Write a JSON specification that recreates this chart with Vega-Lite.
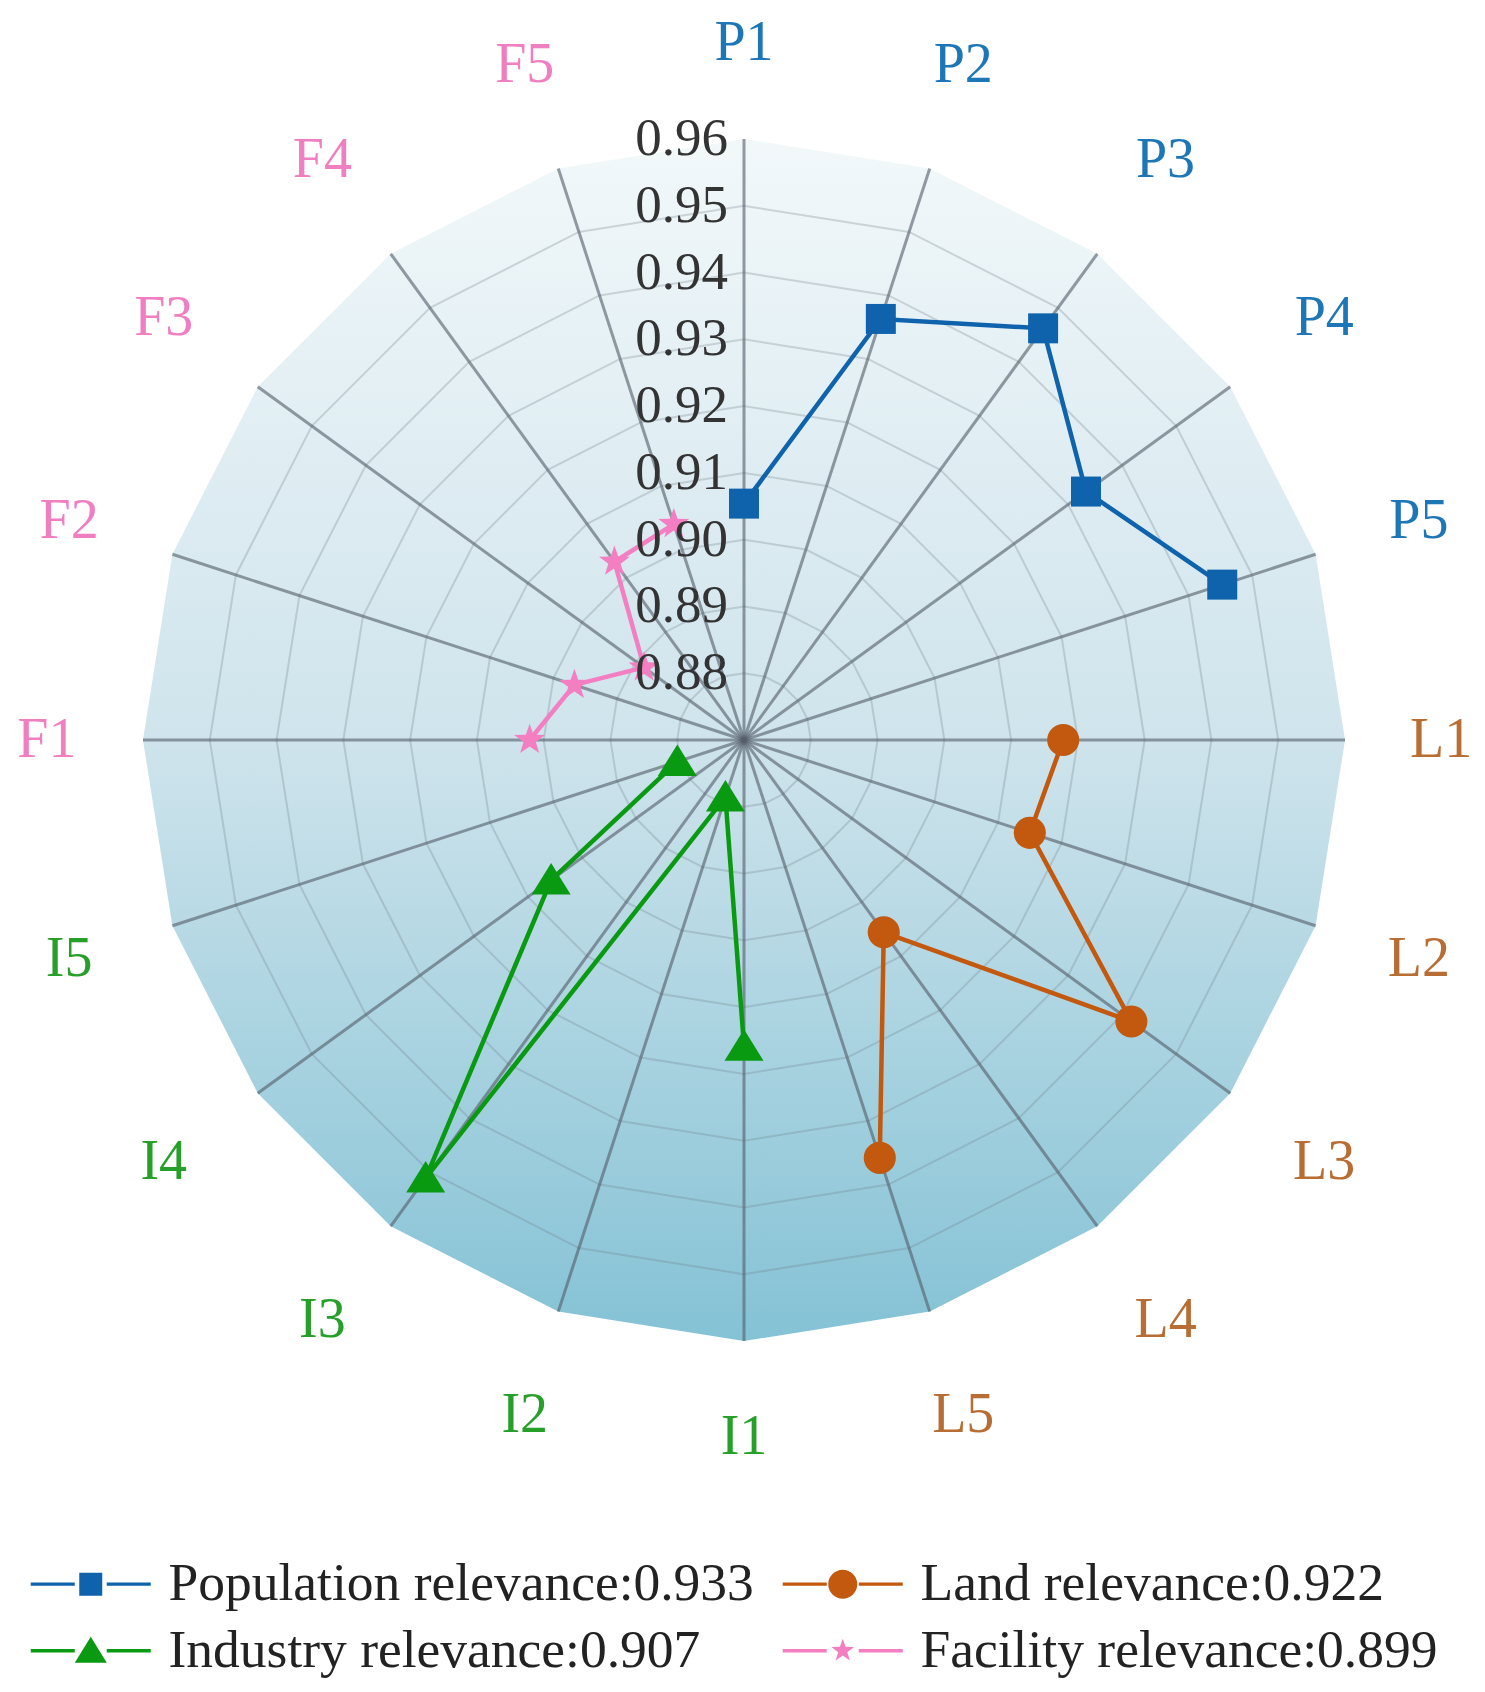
{
  "$schema": "https://vega.github.io/schema/vega-lite/v6.json",
  "width": 1485,
  "height": 1692,
  "padding": 0,
  "autosize": {"type": "none"},
  "background": "white",
  "config": {
    "view": {"stroke": null},
    "font": "Liberation Serif",
    "legend": {
      "orient": "none", "legendX": 30, "legendY": 1557, "columns": 2,
      "columnPadding": 28, "rowPadding": 12, "padding": 0,
      "labelFont": "Liberation Serif", "labelFontSize": 53.5, "labelColor": "#222222", "labelLimit": 0,
      "symbolSize": 400, "symbolOffset": 34, "labelOffset": 51
    }
  },
  "datasets": {
    "axes": [
      {"label": "P1", "grp": "P", "idx": 0, "rings": [0.88, 0.89, 0.9, 0.91, 0.92, 0.93, 0.94, 0.95]},
      {"label": "P2", "grp": "P", "idx": 1, "rings": [0.88, 0.89, 0.9, 0.91, 0.92, 0.93, 0.94, 0.95]},
      {"label": "P3", "grp": "P", "idx": 2, "rings": [0.88, 0.89, 0.9, 0.91, 0.92, 0.93, 0.94, 0.95]},
      {"label": "P4", "grp": "P", "idx": 3, "rings": [0.88, 0.89, 0.9, 0.91, 0.92, 0.93, 0.94, 0.95]},
      {"label": "P5", "grp": "P", "idx": 4, "rings": [0.88, 0.89, 0.9, 0.91, 0.92, 0.93, 0.94, 0.95]},
      {"label": "L1", "grp": "L", "idx": 5, "rings": [0.88, 0.89, 0.9, 0.91, 0.92, 0.93, 0.94, 0.95]},
      {"label": "L2", "grp": "L", "idx": 6, "rings": [0.88, 0.89, 0.9, 0.91, 0.92, 0.93, 0.94, 0.95]},
      {"label": "L3", "grp": "L", "idx": 7, "rings": [0.88, 0.89, 0.9, 0.91, 0.92, 0.93, 0.94, 0.95]},
      {"label": "L4", "grp": "L", "idx": 8, "rings": [0.88, 0.89, 0.9, 0.91, 0.92, 0.93, 0.94, 0.95]},
      {"label": "L5", "grp": "L", "idx": 9, "rings": [0.88, 0.89, 0.9, 0.91, 0.92, 0.93, 0.94, 0.95]},
      {"label": "I1", "grp": "I", "idx": 10, "rings": [0.88, 0.89, 0.9, 0.91, 0.92, 0.93, 0.94, 0.95]},
      {"label": "I2", "grp": "I", "idx": 11, "rings": [0.88, 0.89, 0.9, 0.91, 0.92, 0.93, 0.94, 0.95]},
      {"label": "I3", "grp": "I", "idx": 12, "rings": [0.88, 0.89, 0.9, 0.91, 0.92, 0.93, 0.94, 0.95]},
      {"label": "I4", "grp": "I", "idx": 13, "rings": [0.88, 0.89, 0.9, 0.91, 0.92, 0.93, 0.94, 0.95]},
      {"label": "I5", "grp": "I", "idx": 14, "rings": [0.88, 0.89, 0.9, 0.91, 0.92, 0.93, 0.94, 0.95]},
      {"label": "F1", "grp": "F", "idx": 15, "rings": [0.88, 0.89, 0.9, 0.91, 0.92, 0.93, 0.94, 0.95]},
      {"label": "F2", "grp": "F", "idx": 16, "rings": [0.88, 0.89, 0.9, 0.91, 0.92, 0.93, 0.94, 0.95]},
      {"label": "F3", "grp": "F", "idx": 17, "rings": [0.88, 0.89, 0.9, 0.91, 0.92, 0.93, 0.94, 0.95]},
      {"label": "F4", "grp": "F", "idx": 18, "rings": [0.88, 0.89, 0.9, 0.91, 0.92, 0.93, 0.94, 0.95]},
      {"label": "F5", "grp": "F", "idx": 19, "rings": [0.88, 0.89, 0.9, 0.91, 0.92, 0.93, 0.94, 0.95]}
    ],
    "pts": [
      {"series": "Population relevance:0.933", "label": "P1", "idx": 0, "value": 0.9054},
      {"series": "Population relevance:0.933", "label": "P2", "idx": 1, "value": 0.9363},
      {"series": "Population relevance:0.933", "label": "P3", "idx": 2, "value": 0.9462},
      {"series": "Population relevance:0.933", "label": "P4", "idx": 3, "value": 0.9333},
      {"series": "Population relevance:0.933", "label": "P5", "idx": 4, "value": 0.9453},
      {"series": "Land relevance:0.922", "label": "L1", "idx": 5, "value": 0.9178},
      {"series": "Land relevance:0.922", "label": "L2", "idx": 6, "value": 0.915},
      {"series": "Land relevance:0.922", "label": "L3", "idx": 7, "value": 0.9417},
      {"series": "Land relevance:0.922", "label": "L4", "idx": 8, "value": 0.9056},
      {"series": "Land relevance:0.922", "label": "L5", "idx": 9, "value": 0.9358},
      {"series": "Industry relevance:0.907", "label": "I1", "idx": 10, "value": 0.9159},
      {"series": "Industry relevance:0.907", "label": "I2", "idx": 11, "value": 0.879},
      {"series": "Industry relevance:0.907", "label": "I3", "idx": 12, "value": 0.9511},
      {"series": "Industry relevance:0.907", "label": "I4", "idx": 13, "value": 0.9057},
      {"series": "Industry relevance:0.907", "label": "I5", "idx": 14, "value": 0.8805},
      {"series": "Facility relevance:0.899", "label": "F1", "idx": 15, "value": 0.9021},
      {"series": "Facility relevance:0.899", "label": "F2", "idx": 16, "value": 0.8967},
      {"series": "Facility relevance:0.899", "label": "F3", "idx": 17, "value": 0.8885},
      {"series": "Facility relevance:0.899", "label": "F4", "idx": 18, "value": 0.903},
      {"series": "Facility relevance:0.899", "label": "F5", "idx": 19, "value": 0.904}
    ],
    "ticks": [
      {"tick": "0.88", "value": 0.88},
      {"tick": "0.89", "value": 0.89},
      {"tick": "0.90", "value": 0.9},
      {"tick": "0.91", "value": 0.91},
      {"tick": "0.92", "value": 0.92},
      {"tick": "0.93", "value": 0.93},
      {"tick": "0.94", "value": 0.94},
      {"tick": "0.95", "value": 0.95},
      {"tick": "0.96", "value": 0.96}
    ]
  },
  "encoding": {
    "x": {"field": "px", "type": "quantitative", "scale": {"domain": [-1.2379, 1.2329], "nice": false, "zero": false}, "axis": null},
    "y": {"field": "py", "type": "quantitative", "scale": {"domain": [-1.584, 1.2313], "nice": false, "zero": false}, "axis": null}
  },
  "layer": [
    {
      "data": {"name": "axes"},
      "transform": [
        {"calculate": "datum.idx * PI / 10", "as": "t"},
        {"calculate": "sin(datum.t)", "as": "px"},
        {"calculate": "cos(datum.t)", "as": "py"}
      ],
      "mark": {
        "type": "line",
        "interpolate": "linear-closed",
        "stroke": null,
        "fill": {"gradient": "linear", "x1": 0, "y1": 0, "x2": 0, "y2": 1,
          "stops": [{"offset": 0, "color": "#f2f8fa"}, {"offset": 0.5, "color": "#cfe4ec"}, {"offset": 1, "color": "#84c2d5"}]}
      },
      "encoding": {"order": {"field": "idx", "type": "quantitative"}}
    },
    {
      "data": {"name": "axes"},
      "transform": [
        {"flatten": ["rings"]},
        {"calculate": "datum.idx * PI / 10", "as": "t"},
        {"calculate": "(datum.rings - 0.87) / 0.09", "as": "r"},
        {"calculate": "datum.r * sin(datum.t)", "as": "px"},
        {"calculate": "datum.r * cos(datum.t)", "as": "py"}
      ],
      "mark": {"type": "line", "interpolate": "linear-closed", "stroke": "#6f7f86", "strokeOpacity": 0.28, "strokeWidth": 2},
      "encoding": {
        "detail": {"field": "rings", "type": "nominal"},
        "order": {"field": "idx", "type": "quantitative"}
      }
    },
    {
      "data": {"name": "axes"},
      "transform": [
        {"calculate": "datum.idx * PI / 10", "as": "t"},
        {"calculate": "sin(datum.t)", "as": "px"},
        {"calculate": "cos(datum.t)", "as": "py"}
      ],
      "mark": {"type": "rule", "stroke": "#55606a", "strokeOpacity": 0.62, "strokeWidth": 3},
      "encoding": {"x2": {"datum": 0}, "y2": {"datum": 0}}
    },
    {
      "data": {"name": "pts"},
      "transform": [
        {"calculate": "datum.idx * PI / 10", "as": "t"},
        {"calculate": "(datum.value - 0.87) / 0.09", "as": "r"},
        {"calculate": "datum.r * sin(datum.t)", "as": "px"},
        {"calculate": "datum.r * cos(datum.t)", "as": "py"}
      ],
      "mark": {"type": "line", "strokeWidth": 4.5},
      "encoding": {
        "stroke": {"field": "series", "type": "nominal", "legend": null,
          "scale": {"domain": ["Facility relevance:0.899", "Industry relevance:0.907", "Land relevance:0.922", "Population relevance:0.933"],
                    "range": ["#f47ec2", "#0a9a12", "#c2590f", "#0f63ad"]}},
        "order": {"field": "idx", "type": "quantitative"}
      }
    },
    {
      "data": {"name": "pts"},
      "transform": [
        {"calculate": "datum.idx * PI / 10", "as": "t"},
        {"calculate": "(datum.value - 0.87) / 0.09", "as": "r"},
        {"calculate": "datum.r * sin(datum.t)", "as": "px"},
        {"calculate": "datum.r * cos(datum.t)", "as": "py"}
      ],
      "mark": {"type": "point", "filled": true, "opacity": 1, "size": 900, "strokeWidth": 0},
      "encoding": {
        "color": {"field": "series", "type": "nominal",
          "scale": {"domain": ["Population relevance:0.933", "Industry relevance:0.907", "Land relevance:0.922", "Facility relevance:0.899"],
                    "range": ["#0f63ad", "#0a9a12", "#c2590f", "#f47ec2"]},
          "legend": {
            "title": null,
            "symbolType": {"expr": "(datum && datum.value === 'Population relevance:0.933') ? 'M-6,-0.17H-1.6V0.17H-6Z M1.6,-0.17H6V0.17H1.6Z M-1.15,-1.15H1.15V1.15H-1.15Z' : (datum && datum.value === 'Land relevance:0.922') ? 'M-6,-0.17H-1.6V0.17H-6Z M1.6,-0.17H6V0.17H1.6Z M-1.45,0A1.45,1.45 0 1,0 1.45,0A1.45,1.45 0 1,0 -1.45,0Z' : (datum && datum.value === 'Industry relevance:0.907') ? 'M-6,-0.17H-1.6V0.17H-6Z M1.6,-0.17H6V0.17H1.6Z M0,-1.4L1.6,1.2L-1.6,1.2Z' : 'M-6,-0.17H-1.6V0.17H-6Z M1.6,-0.17H6V0.17H1.6Z M0,-1.2L0.282,-0.388L1.141,-0.371L0.457,0.148L0.705,0.971L0,0.48L-0.705,0.971L-0.457,0.148L-1.141,-0.371L-0.282,-0.388Z'"},
            "encode": {"symbols": {
              "size": {"value": 400},
              "strokeWidth": {"value": 0},
              "opacity": {"value": 1}
            }}
          }},
        "shape": {"field": "series", "type": "nominal", "legend": null,
          "scale": {"domain": ["Land relevance:0.922", "Population relevance:0.933", "Industry relevance:0.907", "Facility relevance:0.899"],
                    "range": ["M-1.07,0A1.07,1.07 0 1,0 1.07,0A1.07,1.07 0 1,0 -1.07,0Z",
                              "M-1,-1H1V1H-1Z",
                              "M0,-1.15L1.3,0.95L-1.3,0.95Z",
                              "M0,-1.08L0.254,-0.35L1.028,-0.334L0.411,0.134L0.635,0.874L0,0.432L-0.635,0.874L-0.411,0.134L-1.028,-0.334L-0.254,-0.35Z"]}}
      }
    },
    {
      "data": {"name": "axes"},
      "transform": [
        {"calculate": "datum.idx * PI / 10", "as": "t"},
        {"calculate": "1.16 + 0.035 * abs(sin(2 * datum.t))", "as": "lr"},
        {"calculate": "datum.lr * sin(datum.t)", "as": "px"},
        {"calculate": "datum.lr * cos(datum.t)", "as": "py"}
      ],
      "mark": {"type": "text", "font": "Liberation Serif", "fontSize": 56, "align": "center", "baseline": "middle"},
      "encoding": {
        "text": {"field": "label", "type": "nominal"},
        "fill": {"field": "grp", "type": "nominal", "legend": null,
          "scale": {"domain": ["P", "L", "I", "F"], "range": ["#1d76b6", "#b86d34", "#27a02a", "#f07fc2"]}}
      }
    },
    {
      "data": {"name": "ticks"},
      "transform": [
        {"calculate": "0", "as": "px"},
        {"calculate": "(datum.value - 0.87) / 0.09", "as": "py"}
      ],
      "mark": {"type": "text", "font": "Liberation Serif", "fontSize": 53, "align": "right", "baseline": "middle", "dx": -16, "color": "#333333"},
      "encoding": {"text": {"field": "tick", "type": "nominal"}}
    }
  ]
}
